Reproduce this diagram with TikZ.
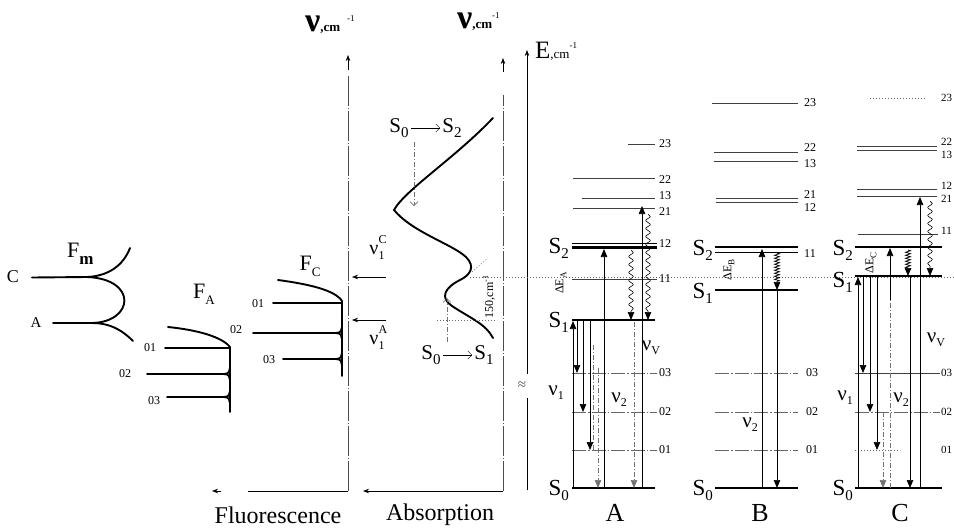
\documentclass[tikz,border=0pt]{standalone}
\usepackage{fontspec}
\setmainfont{Liberation Serif}
\usetikzlibrary{arrows.meta,decorations.pathmorphing}
\newcommand\fs[1]{\fontsize{#1}{#1}\selectfont}
\newcommand\Sl[1]{S\raisebox{-5pt}{\fs{15}#1}}
\newcommand\nul[1]{ν\raisebox{-4pt}{\fs{12}#1}}
\newcommand\nuss[2]{ν\rlap{\raisebox{11pt}{\fs{12}#2}}\raisebox{-5pt}{\fs{12}#1}}
\begin{document}
\begin{tikzpicture}[x=1pt,y=-1pt,
  curv/.style={line width=1.9pt, line cap=round},
  lvl/.style={line width=2.6pt},
  sublvl/.style={line width=0.7pt, black!75},
  viblvl/.style={line width=0.6pt, black!60, dash pattern=on 14pt off 2pt on 1.5pt off 2pt},
  dotl/.style={line width=0.6pt, black!60, dash pattern=on 1pt off 2pt},
  dashl/.style={line width=0.6pt, black!55, dash pattern=on 5pt off 2pt on 1pt off 2pt},
  axisl/.style={line width=0.6pt, black!70, dash pattern=on 30pt off 2pt on 1pt off 2pt},
  tri/.style={-{Triangle[length=8pt,width=6.5pt]}},
  trans/.style={line width=0.7pt, tri},
  wav/.style={line width=0.6pt, decorate, decoration={snake, amplitude=2.3pt, segment length=8pt, post length=8pt}},
  zz/.style={line width=0.7pt, decorate, decoration={zigzag, amplitude=2.5pt, segment length=3pt, post length=8pt}},
  barb/.style={-{Stealth[length=6pt,width=4.5pt]}},
  numlab/.style={font=\fs{12}, inner sep=0pt, anchor=west},
  slab/.style={font=\fs{23}, inner sep=0pt, anchor=east},
  nlab/.style={font=\fs{21}, inner sep=0pt},
  tlab/.style={font=\fs{12}, inner sep=0pt},
  big/.style={font=\fs{26}, inner sep=0pt},
]
\useasboundingbox (0,0) rectangle (954,528);

% ---------- top axis labels ----------
\node[anchor=base west, inner sep=0pt] (nuF) at (305,31) {{\bfseries\fs{34}ν}{\bfseries\fs{13},cm}\hspace{7pt}\raisebox{10pt}{\fs{9}-1}};
\node[anchor=base west, inner sep=0pt] (nuA) at (457,28) {{\bfseries\fs{34}ν}{\bfseries\fs{13},cm}\raisebox{10pt}{\fs{9}-1}};
\node[anchor=base west, inner sep=0pt] (Elab) at (535,58) {{\fs{25}E}{\fs{13},cm}\raisebox{10pt}{\fs{9}-1}};

% ---------- fluorescence axis ----------
\draw[line width=0.6pt, barb] (348,70) -- (348,55);
\draw[axisl] (348,491) -- (348,76);
\draw[line width=0.7pt] (348,491) -- (248,491);
\draw[line width=0.7pt, barb] (221,491) -- (212,491);
\node[font=\fs{24}, inner sep=0pt] (fluo) at (278,515) {Fluorescence};

% ---------- absorption axis ----------
\draw[line width=0.6pt, barb] (503,72) -- (503,58);
\draw[axisl] (503,491) -- (503,95);
\draw[line width=0.7pt, barb] (503,491) -- (363,491);
\node[font=\fs{24}, inner sep=0pt] (absl) at (440,515) {Absorption};

% ---------- energy axis ----------
\draw[line width=0.6pt] (527,490) -- (527,398);
\draw[line width=0.6pt, barb] (527,374) -- (527,50);
\node[font=\fs{15}, inner sep=0pt, text=black!70] (brk) at (522,386) {≈};

% ---------- Fm ----------
\node[font=\fs{18}, inner sep=0pt] (lC) at (13,277) {C};
\node[font=\fs{15}, inner sep=0pt] (lA) at (36,323) {A};
\coordinate (jc) at (87,277);
\coordinate (ja) at (92,323);
\draw[curv] (32,277.5) -- (jc);
\draw[curv] (jc) .. controls (108,276) and (123,266) .. (130,248);
\draw[curv] (jc) .. controls (138,279) and (134,322) .. (ja);
\draw[curv] (53,323) -- (ja);
\draw[curv] (ja) .. controls (112,323) and (124,332) .. (133,341);
\node[anchor=west, inner sep=0pt, font=\fs{22}] (Fm) at (67,254) {F\raisebox{-7pt}{\bfseries\fs{17}m}};

% ---------- F_A ----------
\node[font=\fs{22}, inner sep=0pt] (FA) at (204,294) {F\raisebox{-6pt}{\fs{13}A}};
\draw[curv] (168,327) .. controls (198,330) and (222,337) .. (230,347);
\draw[curv] (165,348) -- (230,348);
\draw[curv] (147,374) -- (224,374) .. controls (229,374) and (230,371) .. (230,368);
\draw[curv] (224,374) .. controls (229,374) and (230,377) .. (230,380);
\draw[curv] (167,397) -- (224,397) .. controls (229,397) and (230,394) .. (230,391);
\draw[curv] (224,397) .. controls (229,397) and (230,400) .. (230,403);
\draw[curv] (230,347) -- (230,412);
\node[tlab] (fa01) at (150,348) {01};
\node[tlab] (fa02) at (125,374) {02};
\node[tlab] (fa03) at (154,401) {03};

% ---------- F_C ----------
\node[font=\fs{22}, inner sep=0pt] (FC) at (310,266) {F\raisebox{-6pt}{\fs{13}C}};
\draw[curv] (278,280) .. controls (308,284) and (335,290) .. (342,301);
\draw[curv] (273,303) -- (342,303);
\draw[curv] (253,333) -- (336,333) .. controls (341,333) and (342,330) .. (342,327);
\draw[curv] (336,333) .. controls (341,333) and (342,336) .. (342,339);
\draw[curv] (283,359) -- (336,359) .. controls (341,359) and (342,356) .. (342,353);
\draw[curv] (336,359) .. controls (341,359) and (342,362) .. (342,365);
\draw[curv] (342,301) -- (342,376);
\node[tlab] (fc01) at (258,304) {01};
\node[tlab] (fc02) at (236,330) {02};
\node[tlab] (fc03) at (269,360) {03};

% nu1 arrows
\node[font=\fs{20}, inner sep=0pt] (nuC) at (377,248) {\nuss{1}{C}};
\node[font=\fs{20}, inner sep=0pt] (nuAA) at (377,338) {\nuss{1}{A}};
\draw[line width=0.6pt, barb] (386,277) -- (352,277);
\draw[line width=0.6pt, barb] (386,320) -- (352,320);

% ---------- absorption curve ----------
\draw[curv] (493,118) .. controls (455,158) and (405,190) .. (394,210)
  .. controls (412,232) and (452,244) .. (466,257)
  .. controls (476,267) and (470,275) .. (460,280)
  .. controls (444,288) and (440,298) .. (452,306)
  .. controls (470,318) and (486,324) .. (493,338);
\node[font=\fs{21}, inner sep=0pt] (s02a) at (399,128) {\Sl{0}};
\node[font=\fs{21}, inner sep=0pt] (s02b) at (452,128) {\Sl{2}};
\draw[line width=0.5pt, -{Straight Barb[length=4pt]}] (s02a.east) ++(2,0) -- ([xshift=-2pt]s02b.west);
\draw[dashl, -{Straight Barb[length=4pt]}] (414,142) -- (414,206);
\node[font=\fs{21}, inner sep=0pt] (s01a) at (431,355) {\Sl{0}};
\node[font=\fs{21}, inner sep=0pt] (s01b) at (484,355) {\Sl{1}};
\draw[line width=0.5pt, -{Straight Barb[length=4pt]}] (s01a.east) ++(2,0) -- ([xshift=-2pt]s01b.west);
\draw[dashl, -{Straight Barb[length=4pt]}] (447,342) -- (447,298);
\draw[dotl] (470,277) -- (954,277);
\draw[dotl] (437,320) -- (497,320);
\draw[dotl] (472,272) -- (488,258);
\node[font=\fs{12}, inner sep=0pt, rotate=90] (d150) at (489,297) {150,cm\raisebox{5pt}{\fs{8}-1}};

% ---------- diagram A ----------
\draw[sublvl] (628,144) -- (655,144);
\draw[sublvl] (573,178) -- (655,178);
\draw[sublvl] (582,198) -- (655,198);
\draw[sublvl] (573,208) -- (655,208);
\draw[line width=1pt] (572,243) -- (657,243);
\draw[lvl] (572,247.5) -- (657,247.5);
\draw[sublvl] (572,279) -- (657,279);
\draw[lvl] (572,320) -- (655,320);
\draw[viblvl] (572,373) -- (657,373);
\draw[viblvl] (572,412) -- (657,412);
\draw[viblvl] (572,450) -- (657,450);
\draw[lvl] (572,488) -- (655,488);
\node[numlab] (a23) at (659,144) {23};
\node[numlab] (a22) at (659,180) {22};
\node[numlab] (a13) at (659,196) {13};
\node[numlab] (a21) at (659,212) {21};
\node[numlab] (a12) at (659,244) {12};
\node[numlab] (a11) at (659,279) {11};
\node[numlab] (a03) at (659,373) {03};
\node[numlab] (a02) at (659,412) {02};
\node[numlab] (a01) at (659,450) {01};
\node[slab] (aS2) at (569,248) {\Sl{2}};
\node[slab] (aS1) at (569,322) {\Sl{1}};
\node[slab] (aS0) at (569,490) {\Sl{0}};
\node[big] (labA) at (615,513) {A};
\node[font=\fs{12}, inner sep=0pt, rotate=90] (dEA) at (561,283) {ΔE\raisebox{-3pt}{\fs{9}A}};
\node[nlab] (anu1) at (556,393) {\nul{1}};
\node[nlab] (anu2) at (619,400) {\nul{2}};
\node[nlab] (anuv) at (651,348) {\nul{V}};
\draw[trans] (573,488) -- (573,321);
\draw[trans] (577,321) -- (577,373);
\draw[trans] (583,321) -- (583,412);
\draw[trans] (590,321) -- (590,450);
\draw[dashl] (593,345) -- (593,450);
\draw[dashl, tri] (598,368) -- (598,488);
\draw[trans] (604,488) -- (604,249);
\draw[wav, tri] (631,250) -- (631,320);
\draw[dashl, tri] (634,322) -- (634,488);
\draw[line width=0.6pt, tri] (642,488) -- (642,206);
\draw[wav, tri] (648,214) -- (648,320);

% ---------- diagram B ----------
\draw[sublvl] (712,103) -- (798,103);
\draw[sublvl] (714,152) -- (798,152);
\draw[sublvl] (714,161) -- (798,161);
\draw[sublvl] (716,198) -- (798,198);
\draw[sublvl] (716,202) -- (798,202);
\draw[lvl] (715,247) -- (798,247);
\draw[line width=1pt] (715,252) -- (798,252);
\draw[lvl] (715,290) -- (798,290);
\draw[viblvl] (715,373) -- (798,373);
\draw[viblvl] (715,412) -- (798,412);
\draw[viblvl] (715,450) -- (798,450);
\draw[lvl] (715,488) -- (798,488);
\node[numlab] (b23) at (804,103) {23};
\node[numlab] (b22) at (804,148) {22};
\node[numlab] (b13) at (804,164) {13};
\node[numlab] (b21) at (804,195) {21};
\node[numlab] (b12) at (804,208) {12};
\node[numlab] (b11) at (804,254) {11};
\node[numlab] (b03) at (806,373) {03};
\node[numlab] (b02) at (806,412) {02};
\node[numlab] (b01) at (806,450) {01};
\node[slab] (bS2) at (713,250) {\Sl{2}};
\node[slab] (bS1) at (713,293) {\Sl{1}};
\node[slab] (bS0) at (713,490) {\Sl{0}};
\node[big] (labB) at (760,513) {B};
\node[font=\fs{12}, inner sep=0pt, rotate=90] (dEB) at (729,270) {ΔE\raisebox{-3pt}{\fs{9}B}};
\node[nlab] (bnu2) at (750,425) {\nul{2}};
\draw[trans] (762,488) -- (762,249);
\draw[zz, tri] (777,253) -- (777,290);
\draw[trans] (777,291) -- (777,488);

% ---------- diagram C ----------
\draw[dotl] (870,98) -- (925,98);
\draw[sublvl] (857,146) -- (937,146);
\draw[sublvl] (857,150) -- (937,150);
\draw[sublvl] (857,189) -- (937,189);
\draw[sublvl] (857,196) -- (937,196);
\draw[sublvl] (858,234) -- (938,234);
\draw[lvl] (855,247) -- (942,247);
\draw[lvl] (855,276) -- (942,276);
\draw[sublvl] (855,373) -- (940,373);
\draw[viblvl] (855,412) -- (940,412);
\draw[dotl] (855,450) -- (900,450);
\draw[lvl] (855,488) -- (942,488);
\node[numlab,font=\fs{11}] (c23) at (941,98) {23};
\node[numlab,font=\fs{11}] (c22) at (941,142) {22};
\node[numlab,font=\fs{11}] (c13) at (941,155) {13};
\node[numlab,font=\fs{11}] (c12) at (941,186) {12};
\node[numlab,font=\fs{11}] (c21) at (941,199) {21};
\node[numlab,font=\fs{11}] (c11) at (941,231) {11};
\node[numlab,font=\fs{11}] (c03) at (941,373) {03};
\node[numlab,font=\fs{11}] (c02) at (941,412) {02};
\node[numlab,font=\fs{11}] (c01) at (941,450) {01};
\node[slab] (cS2) at (853,250) {\Sl{2}};
\node[slab] (cS1) at (853,282) {\Sl{1}};
\node[slab] (cS0) at (853,490) {\Sl{0}};
\node[big] (labC) at (900,513) {C};
\node[font=\fs{12}, inner sep=0pt, rotate=90] (dEC) at (871,263) {ΔE\raisebox{-3pt}{\fs{9}C}};
\node[nlab] (cnu1) at (845,398) {\nul{1}};
\node[nlab] (cnu2) at (901,400) {\nul{2}};
\node[nlab] (cnuv) at (936,340) {\nul{V}};
\draw[trans] (858,488) -- (858,277);
\draw[trans] (863,277) -- (863,373);
\draw[trans] (870,277) -- (870,412);
\draw[trans] (877,277) -- (877,450);
\draw[dashl, tri] (883,412) -- (883,488);
\draw[dashl] (890,488) -- (890,300);
\draw[trans] (890,300) -- (890,248);
\draw[zz, tri] (908,250) -- (908,276);
\draw[trans] (910,277) -- (910,488);
\draw[line width=0.6pt, tri] (920,488) -- (920,197);
\draw[wav, tri] (930,201) -- (930,276);
\end{tikzpicture}
\end{document}
